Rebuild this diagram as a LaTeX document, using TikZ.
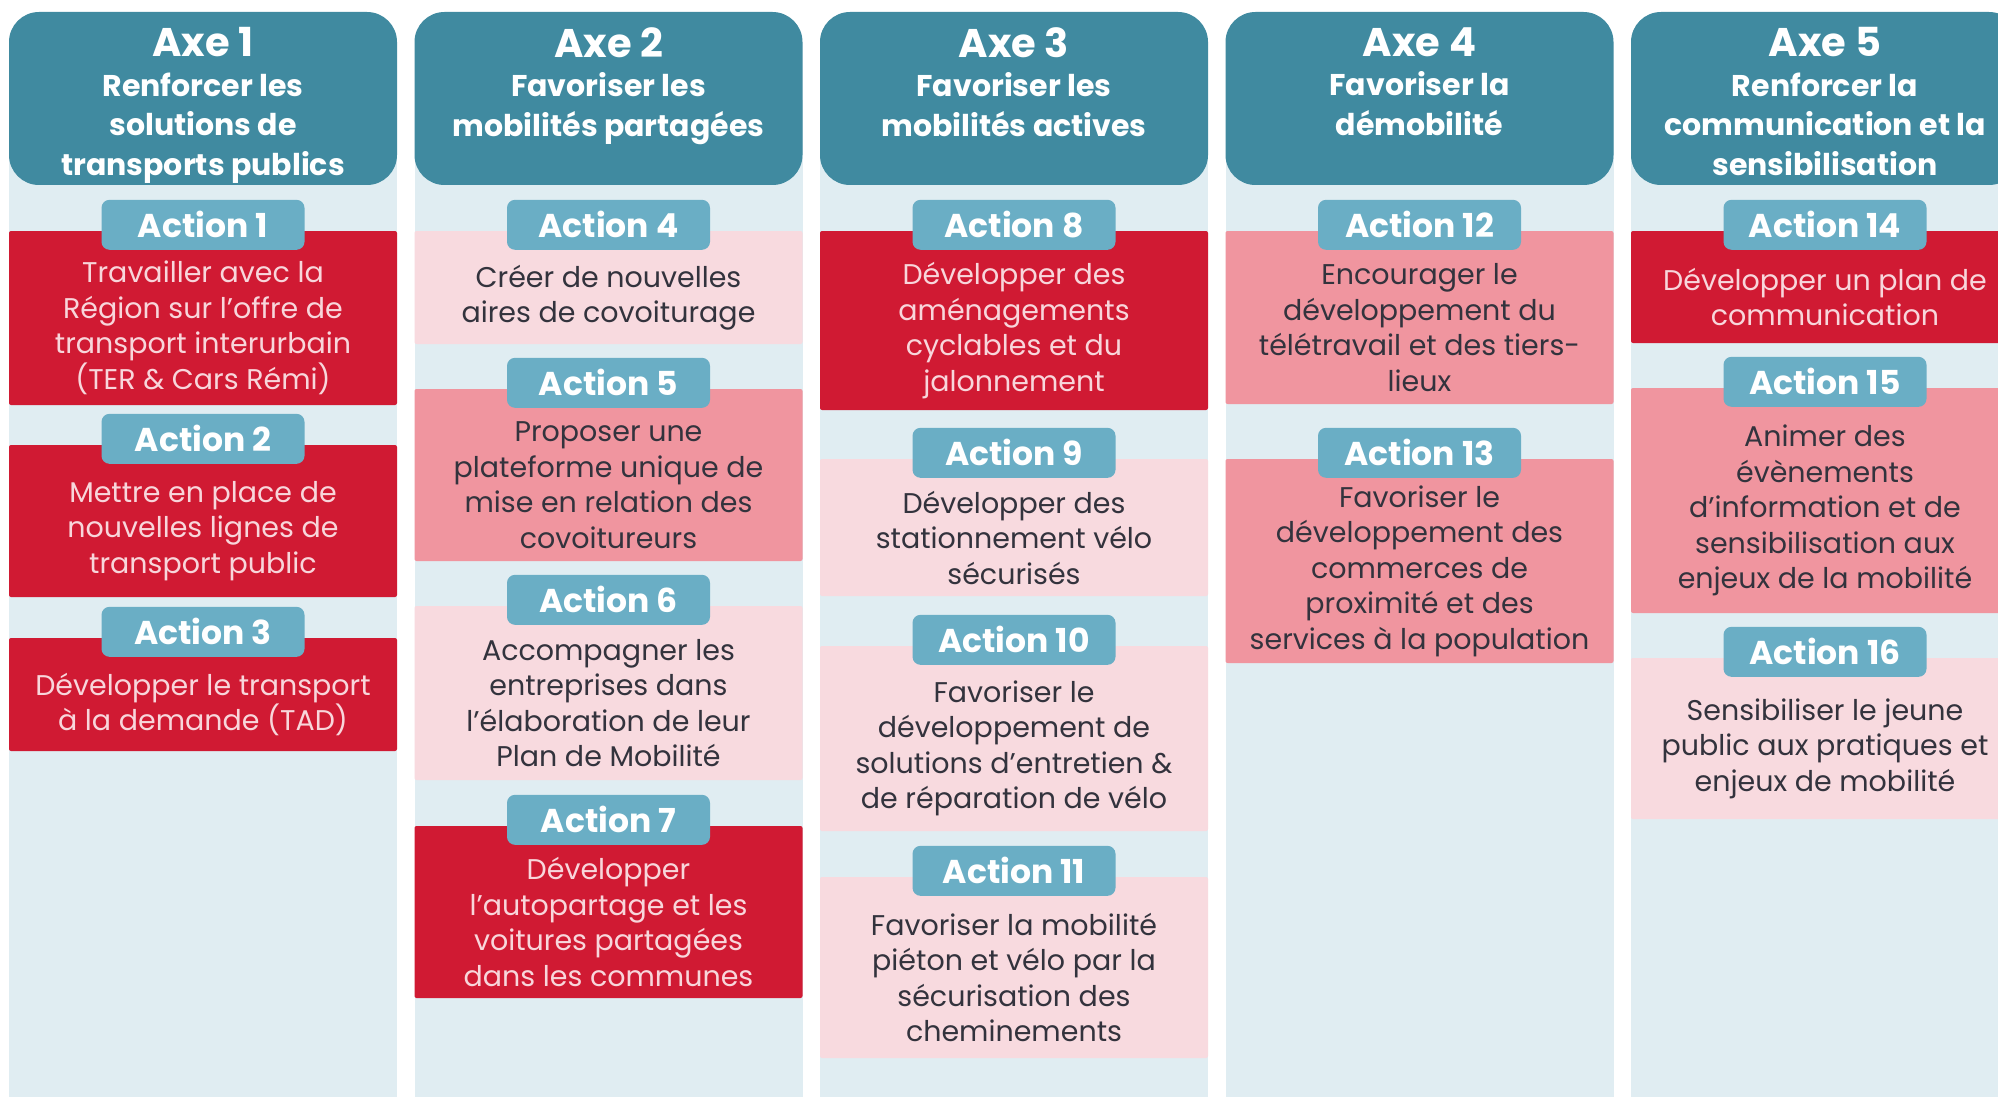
\documentclass[tikz,border=0pt]{standalone}
\usepackage{fontspec}
\setmainfont{Poppins}
\definecolor{axeteal}{HTML}{408AA0}
\definecolor{tabblue}{HTML}{6AAEC5}
\definecolor{colbg}{HTML}{E0EDF2}
\definecolor{actred}{HTML}{D01A33}
\definecolor{actpink}{HTML}{F0959F}
\definecolor{actlight}{HTML}{F8DADF}
\definecolor{redtext}{HTML}{F8D6DB}
\definecolor{darktext}{HTML}{33333D}
\newcommand\bodyfont{\fontsize{28.5}{35.5}\selectfont}
\newcommand\axefont{\fontsize{40}{44}\selectfont\bfseries}
\tikzset{
	axe/.style={rectangle,fill=axeteal,rounded corners=30pt,minimum width=388pt,minimum height=173pt,inner sep=0pt},
	axetxt/.style={anchor=north,align=center,text=white,font=\fontsize{30}{39.5}\selectfont\bfseries},
	tab/.style={rectangle,fill=tabblue,rounded corners=8pt,minimum width=203pt,minimum height=50pt,inner sep=0pt,text=white,font=\fontsize{33}{36}\selectfont\bfseries},
	boxred/.style={rectangle,fill=actred,rounded corners=2pt,minimum width=388pt,inner sep=0pt},
	boxpink/.style={boxred,fill=actpink},
	boxlight/.style={boxred,fill=actlight},
	boxred txt/.style={align=center,text=redtext,font=\bodyfont},
	boxpink txt/.style={align=center,text=darktext,font=\bodyfont},
	boxlight txt/.style={boxpink txt}
}
% name, number, x, top, bottom, style, text
\newcommand\actbox[7]{%
	\node[#6,minimum height={#5-#4}] (#1) at (#3,{(#4+#5)/2}) {};
	\node[tab] (#1tab) at ([yshift=6pt]#1.north) {Action #2};
	\node[#6 txt] (#1txt) at ([yshift=-10pt]#1.center) {#7};}
\begin{document}
\begin{tikzpicture}[x=1pt,y=-1pt]
	\fill[white] (0,0) rectangle (1998,1097);
	\useasboundingbox (0,0) rectangle (1998,1097);
	\foreach \x in {9,414.5,820,1225.5,1631}
		\fill[colbg] (\x,100) rectangle ++(388,997);
	% axes
	\node[axe] (axe1) at (203,98.5) {};
	\node[axe] (axe2) at (608.5,98.5) {};
	\node[axe] (axe3) at (1014,98.5) {};
	\node[axe] (axe4) at (1419.5,98.5) {};
	\node[axe] (axe5) at (1825,98.5) {};
	\node[axetxt] (axe1txt) at ([yshift=-12pt]axe1.north) {{\axefont Axe 1}\\Renforcer les\\solutions de\\transports publics};
	\node[axetxt] (axe2txt) at ([yshift=-12pt]axe2.north) {{\axefont Axe 2}\\Favoriser les\\mobilités partagées};
	\node[axetxt] (axe3txt) at ([yshift=-12pt]axe3.north) {{\axefont Axe 3}\\Favoriser les\\mobilités actives};
	\node[axetxt] (axe4txt) at ([yshift=-12pt]axe4.north) {{\axefont Axe 4}\\Favoriser la\\démobilité};
	\node[axetxt] (axe5txt) at ([yshift=-12pt]axe5.north) {{\axefont Axe 5}\\Renforcer la\\communication et la\\sensibilisation};
	% actions
	\actbox{a1}{1}{203}{231}{405}{boxred}{Travailler avec la\\Région sur l’offre de\\transport interurbain\\(TER \& Cars Rémi)}
	\actbox{a2}{2}{203}{445}{597}{boxred}{Mettre en place de\\nouvelles lignes de\\transport public}
	\actbox{a3}{3}{203}{638}{751}{boxred}{Développer le transport\\à la demande (TAD)}
	\actbox{a4}{4}{608.5}{231}{344}{boxlight}{Créer de nouvelles\\aires de covoiturage}
	\actbox{a5}{5}{608.5}{389}{561}{boxpink}{Proposer une\\plateforme unique de\\mise en relation des\\covoitureurs}
	\actbox{a6}{6}{608.5}{606}{780}{boxlight}{Accompagner les\\entreprises dans\\l’élaboration de leur\\Plan de Mobilité}
	\actbox{a7}{7}{608.5}{826}{998}{boxred}{Développer\\l’autopartage et les\\voitures partagées\\dans les communes}
	\actbox{a8}{8}{1014}{231}{410}{boxred}{Développer des\\aménagements\\cyclables et du\\jalonnement}
	\actbox{a9}{9}{1014}{459}{596}{boxlight}{Développer des\\stationnement vélo\\sécurisés}
	\actbox{a10}{10}{1014}{646}{831}{boxlight}{Favoriser le\\développement de\\solutions d’entretien \&\\de réparation de vélo}
	\actbox{a11}{11}{1014}{877}{1058}{boxlight}{Favoriser la mobilité\\piéton et vélo par la\\sécurisation des\\cheminements}
	\actbox{a12}{12}{1419.5}{231}{404}{boxpink}{Encourager le\\développement du\\télétravail et des tiers-\\lieux}
	\actbox{a13}{13}{1419.5}{459}{663}{boxpink}{Favoriser le\\développement des\\commerces de\\proximité et des\\services à la population}
	\actbox{a14}{14}{1825}{231}{343}{boxred}{Développer un plan de\\communication}
	\actbox{a15}{15}{1825}{388}{613}{boxpink}{Animer des\\évènements\\d’information et de\\sensibilisation aux\\enjeux de la mobilité}
	\actbox{a16}{16}{1825}{658}{819}{boxlight}{Sensibiliser le jeune\\public aux pratiques et\\enjeux de mobilité}
\end{tikzpicture}
\end{document}
